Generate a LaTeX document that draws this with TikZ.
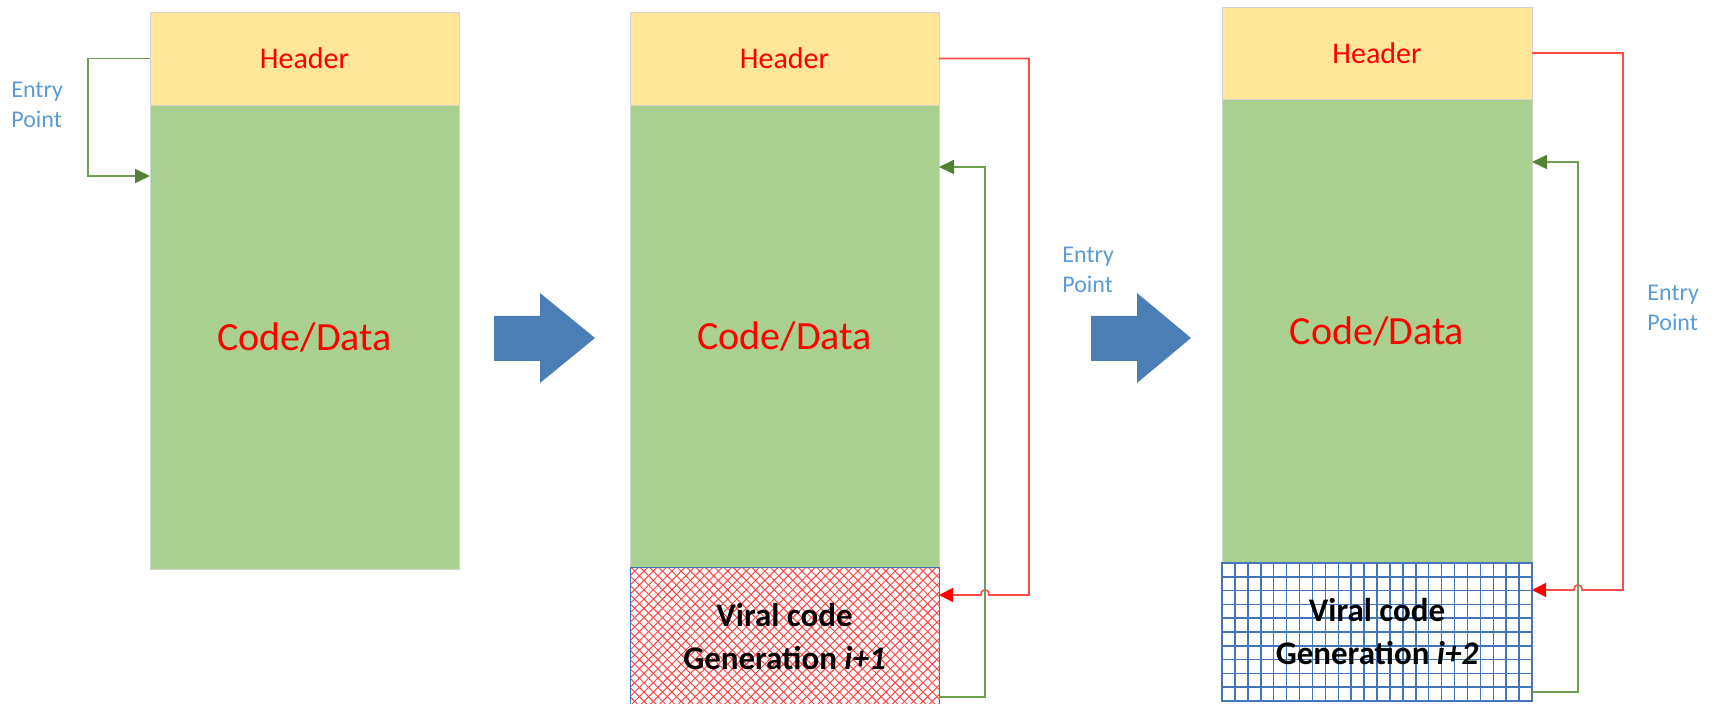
\documentclass[tikz,border=0pt]{standalone}
\usepackage{fontspec}
\setmainfont{Carlito}
\usetikzlibrary{arrows.meta}

\definecolor{hdrfill}{HTML}{FFE699}
\definecolor{codefill}{HTML}{A9D08E}
\definecolor{edgegray}{HTML}{D2D2D2}
\definecolor{entryblue}{HTML}{5B9BD5}
\definecolor{bigarrow}{HTML}{4A7EB5}
\definecolor{linkgreen}{HTML}{6E9E52}
\definecolor{tipgreen}{HTML}{548235}
\definecolor{linkred}{HTML}{FF4A4A}
\definecolor{tipred}{HTML}{FF0000}
\definecolor{gridblue}{HTML}{4276B8}
\definecolor{hatchred}{HTML}{FF4545}

\tikzset{
  hdr/.style={draw=edgegray, line width=0.4pt, fill=hdrfill, minimum height=46.5pt,
    inner sep=0pt, outer sep=0pt, text=red, font=\fontsize{15}{18}\selectfont},
  codeblk/.style={draw=edgegray, line width=0.4pt, fill=codefill, minimum height=232pt,
    inner sep=0pt, outer sep=0pt, text=red, font=\fontsize{20}{24}\selectfont},
  viral/.style={align=center, inner sep=0pt, outer sep=0pt, minimum height=69pt,
    font=\bfseries\fontsize{16.5}{21.5}\selectfont},
  crosshatch/.style={draw=gridblue, line width=0.5pt, fill=white,
    path picture={
      \foreach \k in {-16,...,50}{
        \draw[hatchred, line width=0.5pt]
          ([xshift=\k*4.65pt]path picture bounding box.south west) -- ++(100pt,100pt);
        \draw[hatchred, line width=0.5pt]
          ([xshift=\k*4.65pt]path picture bounding box.south west) -- ++(-100pt,100pt);
      }}},
  gridfill/.style={draw=gridblue, line width=0.75pt, fill=white,
    path picture={
      \foreach \i in {0,...,24}{
        \draw[gridblue, line width=0.75pt]
          ([xshift=\i*6.458pt]path picture bounding box.north west) -- ++(0,-75pt);
      }
      \foreach \j in {0,...,10}{
        \draw[gridblue, line width=0.75pt]
          ([yshift=-\j*6.9pt]path picture bounding box.north west) -- ++(160pt,0);
      }}},
  entry/.style={text=entryblue, align=left, inner sep=0pt, anchor=west,
    font=\fontsize{12}{15}\selectfont},
  greenlink/.style={draw=linkgreen, line width=0.9pt,
    -{Triangle[length=7.5pt,width=7pt,color=tipgreen]}},
  redlink/.style={draw=linkred, line width=0.8pt,
    -{Triangle[length=7pt,width=7pt,color=tipred]}},
}

\begin{document}
\begin{tikzpicture}[x=0.5pt,y=-0.5pt]
\useasboundingbox (0,0) rectangle (1717,704);
\clip (0,0) rectangle (1717,704);

% ---- first file: original host ----
\node[hdr, minimum width=154.5pt] (header1) at (304.5,58.5) {Header};
\node[codeblk, minimum width=154.5pt] (code1) at (304.5,337) {Code/Data};

% ---- second file: infected by generation i+1 ----
\node[hdr, minimum width=154.5pt] (header2) at (784.5,58.5) {Header};
\node[codeblk, minimum width=154.5pt, minimum height=231.5pt] (code2) at (784.5,336.5) {Code/Data};
\node[viral, crosshatch, minimum width=154.5pt] (viral2) at (784.5,637)
  {Viral code\\Generation \textit{i+1}};

% ---- third file: infected by generation i+2 ----
\node[hdr, minimum width=155pt, minimum height=46pt] (header3) at (1377,53) {Header};
\node[codeblk, minimum width=155pt] (code3) at (1377,331) {Code/Data};
\node[viral, gridfill, minimum width=155pt] (viral3) at (1377,632)
  {Viral code\\Generation \textit{i+2}};

% ---- entry point labels ----
\node[entry] (entry1) at (11,105) {Entry\\Point};
\node[entry] (entry2) at (1062,270) {Entry\\Point};
\node[entry] (entry3) at (1647,308) {Entry\\Point};

% ---- block arrows between stages ----
\fill[bigarrow] (494,316) -- (540,316) -- (540,293) -- (595,338) -- (540,383)
  -- (540,361) -- (494,361) -- cycle;
\fill[bigarrow] (1091,316) -- (1137,316) -- (1137,293) -- (1191,338) -- (1137,383)
  -- (1137,361) -- (1091,361) -- cycle;

% ---- control flow: original entry point ----
\coordinate (e1in) at (150,176);
\draw[greenlink] (header1.west) -- (88,58.5) |- (e1in);

% ---- control flow: second file ----
\coordinate (r2in) at (939,595);
\coordinate (g2out) at (939,697);
\coordinate (g2in) at (939,167);
\draw[redlink] (header2.east) -- (1029,58.5) -- (1029,595) -- (989,595)
  .. controls (989,588) and (981,588) .. (981,595) -- (r2in);
\draw[greenlink] (g2out) -- (985,697) -- (985,167) -- (g2in);

% ---- control flow: third file ----
\coordinate (r3in) at (1532,590);
\coordinate (g3out) at (1532,692);
\coordinate (g3in) at (1532,162);
\draw[redlink] (header3.east) -- (1623,53) -- (1623,590) -- (1582,590)
  .. controls (1582,583) and (1574,583) .. (1574,590) -- (r3in);
\draw[greenlink] (g3out) -- (1578,692) -- (1578,162) -- (g3in);
\end{tikzpicture}
\end{document}
